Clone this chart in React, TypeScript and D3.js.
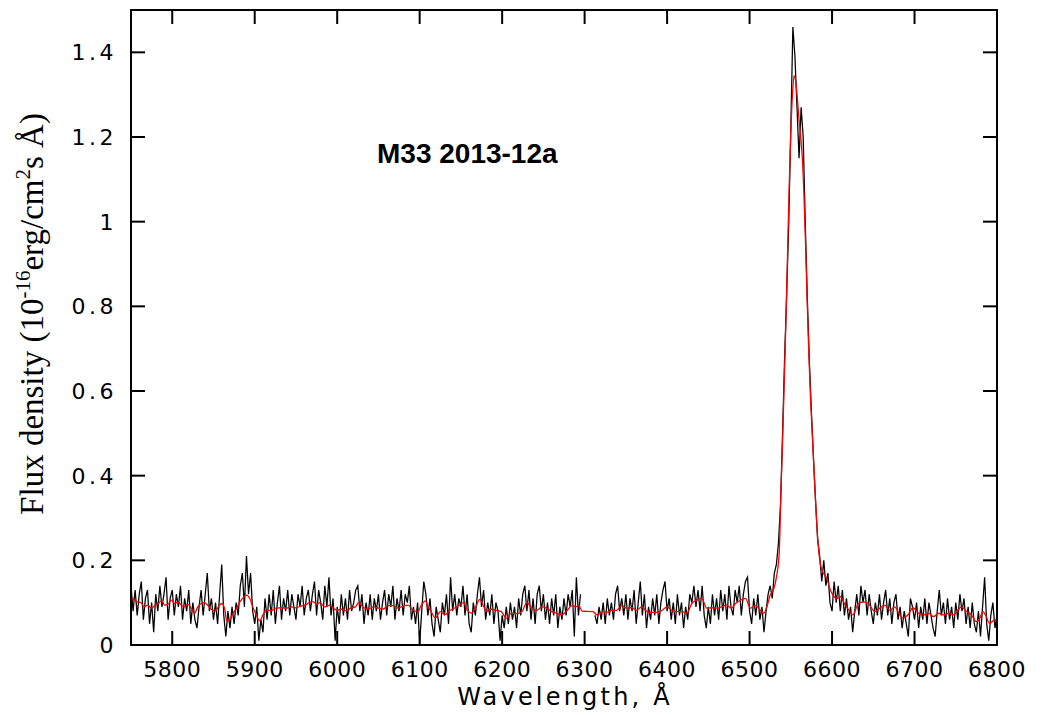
import * as d3 from "d3";

// Observed spectrum, 10^-16 erg/cm^2/s/Å, sampled every 2.5 Å from 5750 Å
const startWave = 5750;
const waveStep = 2.5;
const observedFlux: (number | null)[] = [
  // 5750
  0.14, 0.08, 0.13, 0.07, 0.12, 0.15, 0.06, 0.11, 0.13, 0.05, 0.10, 0.03, 0.12, 0.08, 0.14, 0.09, 0.12, 0.16, 0.06, 0.11,
  // 5800
  0.13, 0.07, 0.12, 0.09, 0.14, 0.06, 0.11, 0.08, 0.13, 0.05, 0.10, 0.06, 0.04, 0.09, 0.13, 0.07, 0.12, 0.17, 0.08, 0.11,
  // 5850
  0.06, 0.10, 0.05, 0.12, 0.19, 0.07, 0.02, 0.08, 0.04, 0.09, 0.05, 0.10, 0.07, 0.14, 0.17, 0.09, 0.21, 0.12, 0.17, 0.08,
  // 5900
  0.05, 0.09, 0.01, 0.06, 0.03, 0.11, 0.06, 0.12, 0.07, 0.13, 0.05, 0.10, 0.14, 0.06, 0.11, 0.08, 0.13, 0.07, 0.12, 0.09,
  // 5950
  0.06, 0.12, 0.09, 0.14, 0.07, 0.11, 0.13, 0.08, 0.12, 0.15, 0.07, 0.13, 0.10, 0.06, 0.14, 0.09, 0.16, 0.07, 0.11, 0.01,
  // 6000
  0.09, 0.05, 0.12, 0.07, 0.11, 0.06, 0.13, 0.08, 0.10, 0.13, 0.14, 0.08, 0.12, 0.05, 0.10, 0.07, 0.12, 0.06, 0.11, 0.08,
  // 6050
  0.12, 0.06, 0.10, 0.13, 0.07, 0.12, 0.09, 0.14, 0.06, 0.11, 0.08, 0.13, 0.07, 0.12, 0.10, 0.14, 0.06, 0.09, 0.05, 0.10,
  // 6100
  0.005, 0.08, 0.15, 0.12, 0.07, 0.11, 0.05, 0.02, 0.09, 0.06, 0.03, 0.10, 0.07, 0.12, 0.05, 0.16, 0.08, 0.12, 0.07, 0.11,
  // 6150
  0.09, 0.14, 0.07, 0.12, 0.05, 0.03, 0.10, 0.07, 0.12, 0.16, 0.09, 0.13, 0.06, 0.10, 0.07, 0.12, 0.05, 0.10, 0.08, 0.01,
  // 6200
  0.07, 0.04, 0.09, 0.05, 0.10, 0.06, 0.09, 0.04, 0.11, 0.07, 0.12, 0.14, 0.08, 0.13, 0.06, 0.11, 0.05, 0.12, 0.14, 0.08,
  // 6250
  0.12, 0.06, 0.10, 0.05, 0.11, 0.07, 0.12, 0.04, 0.09, 0.06, 0.11, 0.07, 0.12, 0.09, 0.13, 0.02, 0.16, 0.07, 0.12, null,
  // 6300 (no data in the gap)
  null, null, null, null, null, 0.07, 0.05, 0.09, 0.06, 0.10, 0.05, 0.11, 0.07, 0.10, 0.06, 0.12, 0.14, 0.08, 0.11, 0.07,
  // 6350
  0.12, 0.06, 0.11, 0.08, 0.13, 0.05, 0.10, 0.15, 0.07, 0.12, 0.04, 0.09, 0.06, 0.11, 0.07, 0.12, 0.05, 0.10, 0.13, 0.15,
  // 6400
  0.08, 0.11, 0.06, 0.10, 0.05, 0.12, 0.07, 0.10, 0.04, 0.09, 0.06, 0.12, 0.10, 0.14, 0.09, 0.13, 0.08, 0.14, 0.07, 0.04,
  // 6450
  0.09, 0.05, 0.12, 0.07, 0.11, 0.06, 0.13, 0.08, 0.12, 0.06, 0.14, 0.09, 0.07, 0.13, 0.10, 0.14, 0.07, 0.12, 0.15, 0.16,
  // 6500
  0.08, 0.05, 0.11, 0.07, 0.12, 0.06, 0.09, 0.03, 0.08, 0.12, 0.14, 0.11, 0.17, 0.19, 0.24, 0.33, 0.50, 0.68, 0.83, 1.00,
  // 6550
  1.22, 1.46, 1.39, 1.27, 1.15, 1.27, 1.20, 1.00, 0.82, 0.67, 0.55, 0.44, 0.34, 0.25, 0.21, 0.15, 0.20, 0.14, 0.17, 0.10,
  // 6600
  0.08, 0.15, 0.10, 0.14, 0.08, 0.13, 0.07, 0.11, 0.06, 0.09, 0.03, 0.08, 0.12, 0.07, 0.14, 0.10, 0.13, 0.07, 0.12, 0.08,
  // 6650
  0.05, 0.10, 0.07, 0.12, 0.06, 0.10, 0.13, 0.07, 0.11, 0.05, 0.10, 0.12, 0.06, 0.09, 0.04, 0.08, 0.05, 0.02, 0.11, 0.09,
  // 6700
  0.06, 0.10, 0.04, 0.09, 0.06, 0.11, 0.05, 0.10, 0.07, 0.04, 0.02, 0.08, 0.13, 0.07, 0.10, 0.05, 0.11, 0.06, 0.09, 0.04,
  // 6750
  0.10, 0.06, 0.12, 0.08, 0.11, 0.05, 0.09, 0.04, 0.10, 0.05, 0.03, 0.08, 0.02, 0.09, 0.16, 0.05, 0.01, 0.07, 0.10, 0.04,
  // 6800
  0.07,
];

// Smoothed spectrum (red), [wavelength Å, flux]
const smoothFlux: [number, number][] = [
  [5750, 0.114], [5754, 0.106], [5758, 0.102], [5762, 0.1], [5766, 0.09], [5770, 0.094], [5775, 0.087],
  [5779, 0.094], [5783, 0.098], [5787, 0.104], [5791, 0.094], [5795, 0.096], [5799, 0.106], [5803, 0.098],
  [5807, 0.102], [5811, 0.094], [5815, 0.09], [5819, 0.096], [5823, 0.087], [5827, 0.075], [5831, 0.09],
  [5835, 0.098], [5839, 0.1], [5843, 0.094], [5847, 0.085], [5852, 0.08], [5856, 0.09], [5860, 0.098],
  [5864, 0.082], [5866, 0.057], [5870, 0.061], [5874, 0.075], [5878, 0.087], [5882, 0.102], [5886, 0.112],
  [5890, 0.118], [5894, 0.11], [5898, 0.088], [5902, 0.071], [5906, 0.057], [5910, 0.071], [5914, 0.082],
  [5920, 0.082], [5926, 0.087], [5932, 0.088], [5938, 0.087], [5944, 0.09], [5950, 0.088], [5956, 0.092],
  [5963, 0.096], [5967, 0.102], [5971, 0.102], [5975, 0.096], [5979, 0.1], [5985, 0.09], [5991, 0.094],
  [5995, 0.088], [6000, 0.082], [6005, 0.085], [6011, 0.08], [6016, 0.087], [6022, 0.09], [6026, 0.1],
  [6031, 0.09], [6038, 0.085], [6044, 0.09], [6050, 0.087], [6056, 0.085], [6062, 0.093], [6068, 0.093],
  [6074, 0.087], [6080, 0.092], [6086, 0.094], [6092, 0.082], [6098, 0.079], [6102, 0.094], [6107, 0.104],
  [6110, 0.09], [6113, 0.082], [6119, 0.064], [6125, 0.079], [6131, 0.072], [6137, 0.082], [6143, 0.088],
  [6148, 0.094], [6153, 0.1], [6158, 0.082], [6163, 0.075], [6168, 0.09], [6173, 0.108], [6177, 0.094],
  [6181, 0.079], [6187, 0.085], [6193, 0.082], [6199, 0.079], [6205, 0.063], [6211, 0.075], [6218, 0.074],
  [6224, 0.079], [6230, 0.1], [6236, 0.087], [6242, 0.082], [6248, 0.09], [6254, 0.087], [6260, 0.079],
  [6266, 0.075], [6272, 0.071], [6279, 0.082], [6285, 0.094], [6289, 0.09], [6293, 0.093], [6297, 0.08],
  [6310, 0.079], [6315, 0.071], [6321, 0.079], [6327, 0.077], [6333, 0.082], [6339, 0.082], [6345, 0.093],
  [6351, 0.087], [6357, 0.088], [6363, 0.082], [6369, 0.09], [6376, 0.079], [6382, 0.077], [6388, 0.077],
  [6394, 0.082], [6400, 0.09], [6406, 0.082], [6412, 0.079], [6418, 0.079], [6424, 0.075], [6430, 0.098],
  [6436, 0.106], [6442, 0.11], [6448, 0.087], [6454, 0.088], [6460, 0.087], [6466, 0.09], [6472, 0.094],
  [6478, 0.087], [6483, 0.098], [6489, 0.106], [6495, 0.11], [6501, 0.087], [6507, 0.093], [6513, 0.082],
  [6517, 0.075], [6521, 0.09], [6525, 0.118], [6529, 0.13], [6533, 0.165], [6536, 0.22], [6538, 0.36],
  [6540, 0.48], [6542, 0.62], [6544, 0.76], [6546, 0.92], [6548, 1.08], [6550, 1.21], [6552, 1.3],
  [6554, 1.345], [6556, 1.33], [6558, 1.29], [6560, 1.24], [6562, 1.2], [6564, 1.15], [6566, 1.06],
  [6568, 0.94], [6570, 0.8], [6572, 0.68], [6574, 0.58], [6576, 0.5], [6578, 0.42], [6580, 0.34],
  [6582, 0.27], [6584, 0.22], [6586, 0.19], [6588, 0.175], [6591, 0.165], [6594, 0.155], [6598, 0.13],
  [6601, 0.118], [6606, 0.11], [6610, 0.114], [6616, 0.094], [6622, 0.079], [6625, 0.071], [6632, 0.098],
  [6638, 0.102], [6644, 0.098], [6648, 0.087], [6652, 0.079], [6658, 0.087], [6664, 0.094], [6670, 0.082],
  [6676, 0.09], [6681, 0.075], [6686, 0.064], [6692, 0.071], [6698, 0.088], [6705, 0.075], [6711, 0.071],
  [6717, 0.075], [6723, 0.067], [6729, 0.075], [6735, 0.071], [6741, 0.075], [6747, 0.071], [6751, 0.079],
  [6757, 0.09], [6763, 0.079], [6769, 0.071], [6775, 0.055], [6779, 0.063], [6783, 0.079], [6787, 0.067],
  [6791, 0.051], [6797, 0.059], [6800, 0.057],
];

const xTicks = [5800, 5900, 6000, 6100, 6200, 6300, 6400, 6500, 6600, 6700, 6800];
const yTicks = [0, 0.2, 0.4, 0.6, 0.8, 1, 1.2, 1.4];
const yTickLabels = ["0", "0.2", "0.4", "0.6", "0.8", "1", "1.2", "1.4"];

const W = 1049;
const H = 715;
const left = 131;
const right = 997;
const top = 10;
const bottom = 645;
const tickLen = 14;
const tickFont = "'DejaVu Sans', sans-serif";

export default function App() {
  const x = d3.scaleLinear().domain([5750, 6800]).range([left, right]);
  const y = d3.scaleLinear().domain([0, 1.5]).range([bottom, top]);

  const observedLine = d3
    .line<number | null>()
    .defined((d) => d !== null)
    .x((_, i) => x(startWave + i * waveStep))
    .y((d) => y(d as number));

  const smoothLine = d3
    .line<[number, number]>()
    .x((d) => x(d[0]))
    .y((d) => y(d[1]))
    .curve(d3.curveMonotoneX);

  return (
    <svg
      width={W}
      height={H}
      style={{ position: "absolute", left: 0, top: 0, background: "#fff" }}
    >
      <path d={observedLine(observedFlux) ?? ""} fill="none" stroke="#000" strokeWidth={1.25} />
      <path d={smoothLine(smoothFlux) ?? ""} fill="none" stroke="#ff0000" strokeWidth={1.3} />

      {/* frame */}
      <rect
        x={left}
        y={top}
        width={right - left}
        height={bottom - top}
        fill="none"
        stroke="#000"
        strokeWidth={2}
      />

      {/* x ticks, bottom and top */}
      {xTicks.map((t) => (
        <g key={t}>
          <line x1={x(t)} x2={x(t)} y1={bottom} y2={bottom - tickLen} stroke="#000" strokeWidth={2} />
          <line x1={x(t)} x2={x(t)} y1={top} y2={top + tickLen} stroke="#000" strokeWidth={2} />
          <text
            x={x(t)}
            y={677}
            textAnchor="middle"
            fontFamily={tickFont}
            fontSize={22}
            letterSpacing={0.5}
          >
            {t}
          </text>
        </g>
      ))}

      {/* y ticks, left and right */}
      {yTicks.map((t, i) => (
        <g key={t}>
          <line x1={left} x2={left + tickLen} y1={y(t)} y2={y(t)} stroke="#000" strokeWidth={2} />
          <line x1={right} x2={right - tickLen} y1={y(t)} y2={y(t)} stroke="#000" strokeWidth={2} />
          <text
            x={117}
            y={y(t) + 8}
            textAnchor="end"
            fontFamily={tickFont}
            fontSize={22}
            letterSpacing={3.5}
          >
            {yTickLabels[i]}
          </text>
        </g>
      ))}

      <text
        x={565}
        y={705}
        textAnchor="middle"
        fontFamily={tickFont}
        fontSize={24}
        letterSpacing={3.2}
      >
        Wavelength, Å
      </text>

      <text
        transform={`translate(43, 314) rotate(-90)`}
        textAnchor="middle"
        fontFamily="'Liberation Serif', 'Times New Roman', serif"
        fontSize={33}
      >
        Flux density (10
        <tspan fontSize={21} dy={-13}>-16</tspan>
        <tspan dy={13}>erg/cm</tspan>
        <tspan fontSize={21} dy={-13}>2</tspan>
        <tspan dy={13}>s Å)</tspan>
      </text>

      <text
        x={377}
        y={163}
        fontFamily="'Liberation Sans', Arial, sans-serif"
        fontWeight="bold"
        fontSize={28}
      >
        M33 2013-12a
      </text>
    </svg>
  );
}
